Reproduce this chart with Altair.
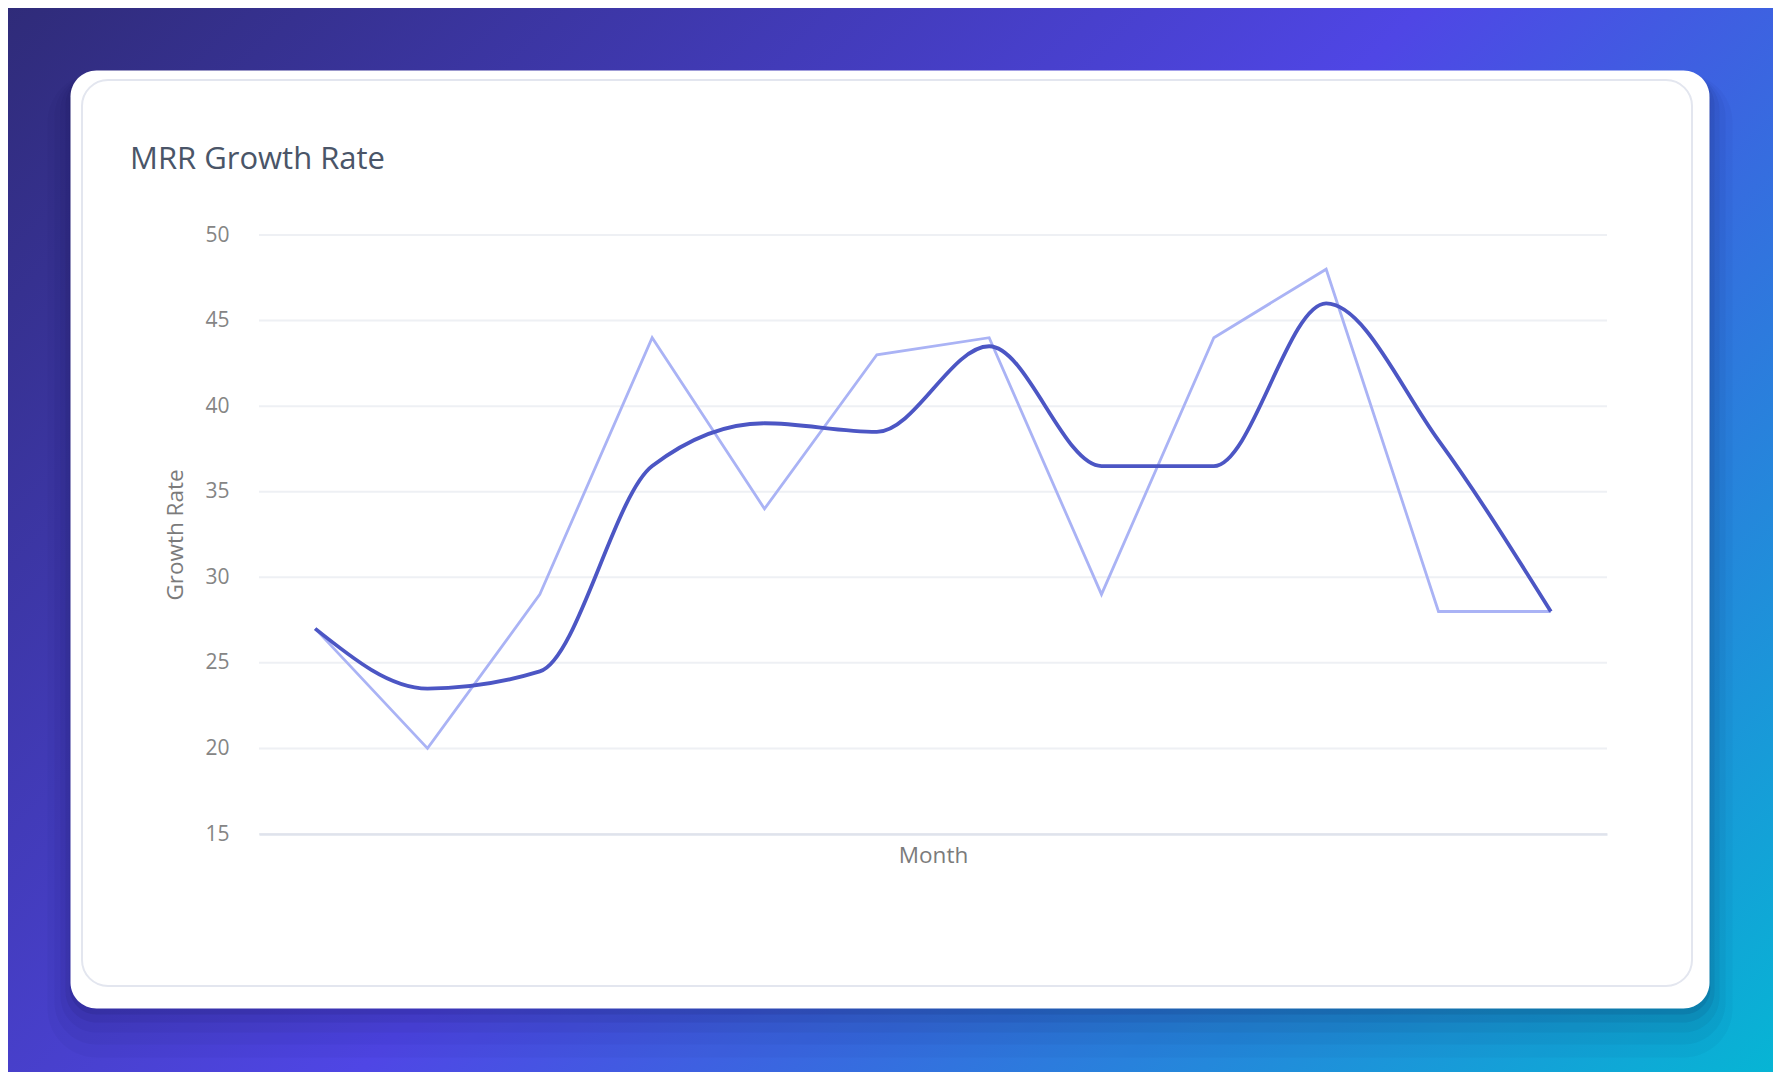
import altair as alt
import pandas as pd

# ---- data ----
months = ["Jan", "Feb", "Mar", "Apr", "May", "Jun", "Jul", "Aug", "Sep", "Oct", "Nov", "Dec"]
growth_rate = [27, 20, 29, 44, 34, 43, 44, 29, 44, 48, 28, 28]
smoothed_rate = [27, 23.5, 24.5, 36.5, 39, 38.5, 43.5, 36.5, 36.5, 46, 38, 28]
y_ticks = [15, 20, 25, 30, 35, 40, 45, 50]
chart_title = ["MRR Growth Rate"]

# ---- layout (whole svg = 1765 x 1064 so the page does not scroll) ----
W, H = 1348, 599
PAD = {"left": 251, "top": 227, "right": 166, "bottom": 238}
FONT = "Open Sans"
LIGHT = "#aab3f5"
DARK = "#4c56c4"

df = pd.DataFrame({"Month": months, "Growth Rate": growth_rate, "Smoothed": smoothed_rate})
one = pd.DataFrame({"k": [0]})
grid_df = pd.DataFrame({"tick": y_ticks})
title_df = pd.DataFrame({"t": chart_title})

y_scale = alt.Scale(domain=[15, 50], nice=False, zero=False)
x_scale = alt.Scale(type="point", padding=0.5)

x_axis = alt.Axis(
    title="Month", labels=False, ticks=False, grid=False,
    domainColor="#dfe3ec", domainWidth=2.5,
    titleFont=FONT, titleFontSize=22.5, titleFontWeight="normal", titleColor="#7b7b7b",
    titlePadding=10, zindex=1,
)
y_axis = alt.Axis(
    title="Growth Rate", values=y_ticks, ticks=False, domain=False, grid=False,
    labelFont=FONT, labelFontSize=21, labelColor="#858585", labelPadding=30,
    titleFont=FONT, titleFontSize=22.5, titleFontWeight="normal", titleColor="#7b7b7b",
    titlePadding=17, zindex=1,
)

# background gradient (page-wide)
bg = alt.Chart(one).mark_rect(
    fill=alt.Gradient(
        gradient="linear",
        stops=[
            alt.GradientStop(color="#2f2b78", offset=0),
            alt.GradientStop(color="#4f46e5", offset=0.5),
            alt.GradientStop(color="#06b6d4", offset=1),
        ],
        x1=0, y1=0, x2=1.1745, y2=0.7122,
    )
).encode(x=alt.value(-259), x2=alt.value(1522), y=alt.value(-235), y2=alt.value(845))

# soft shadow under the card
card_box = (-188.5, 1450.5, -164.5, 773.5)
shadow_layers = []
for spread, dy, op in [(1, 5, 0.09), (5, 9, 0.07), (10, 14, 0.05), (16, 20, 0.04), (23, 26, 0.03)]:
    shadow_layers.append(
        alt.Chart(one).mark_rect(color="#0b0b3a", opacity=op, cornerRadius=26 + spread).encode(
            x=alt.value(card_box[0] - spread), x2=alt.value(card_box[1] + spread),
            y=alt.value(card_box[2] - spread + dy), y2=alt.value(card_box[3] + spread + dy),
        )
    )

card = alt.Chart(one).mark_rect(color="#ffffff", cornerRadius=26).encode(
    x=alt.value(card_box[0]), x2=alt.value(card_box[1]),
    y=alt.value(card_box[2]), y2=alt.value(card_box[3]),
)

inner = alt.Chart(one).mark_rect(
    fillOpacity=0, stroke="#e3e6ef", strokeWidth=2, cornerRadius=26
).encode(x=alt.value(-177), x2=alt.value(1433), y=alt.value(-155), y2=alt.value(751))

title = alt.Chart(title_df).mark_text(
    align="left", baseline="alphabetic", font=FONT, fontSize=31, fontWeight=500, color="#4a5568"
).encode(x=alt.value(-129), y=alt.value(-66), text="t:N")

grid = alt.Chart(grid_df).mark_rule(color="#eef0f4", strokeWidth=2).encode(
    y=alt.Y("tick:Q", scale=y_scale, axis=y_axis, title="Growth Rate"),
    x=alt.value(0), x2=alt.value(W),
)

raw_line = alt.Chart(df).mark_line(color=LIGHT, strokeWidth=2.8, interpolate="linear").encode(
    x=alt.X("Month:N", sort=months, scale=x_scale, axis=x_axis, title="Month"),
    y=alt.Y("Growth Rate:Q", scale=y_scale, axis=y_axis, title="Growth Rate"),
)

smooth_line = alt.Chart(df).mark_line(color=DARK, strokeWidth=3.8, interpolate="monotone").encode(
    x=alt.X("Month:N", sort=months, scale=x_scale, axis=x_axis, title="Month"),
    y=alt.Y("Smoothed:Q", scale=y_scale, axis=y_axis, title="Growth Rate"),
)

chart = alt.layer(
    bg, *shadow_layers, card, inner, title, grid, raw_line, smooth_line
).properties(
    width=W, height=H,
    autosize=alt.AutoSizeParams(type="none"),
    padding=PAD,
).configure_view(strokeWidth=0)

chart.save("out.html", embed_options={"renderer": "svg", "actions": False})
